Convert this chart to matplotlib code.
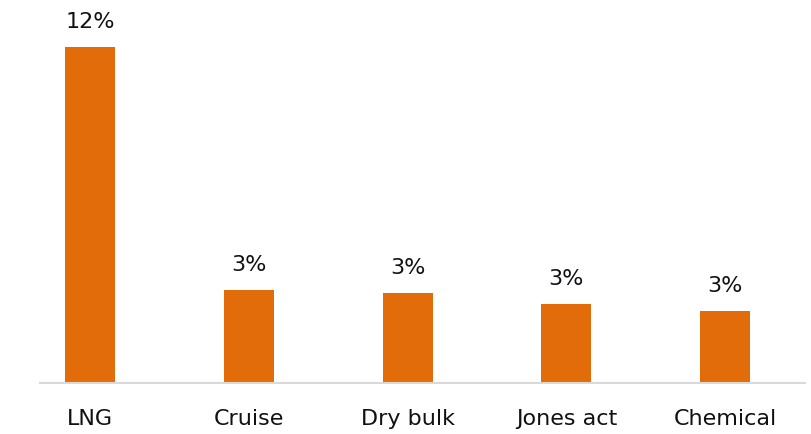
import matplotlib
matplotlib.use("Agg")
import matplotlib.pyplot as plt

# data
categories = ["LNG", "Cruise", "Dry bulk", "Jones act", "Chemical"]
values = [12.0, 3.32, 3.21, 2.82, 2.57]

bar_color = "#E36C0A"

fig = plt.figure(figsize=(8.11, 4.34), dpi=100)
W, H = 811, 434
ax = fig.add_axes([40 / W, 51 / H, (805 - 40) / W, (383 - 47) / H])

x = list(range(len(categories)))
bars = ax.bar(x, values, width=0.315, color=bar_color)

for xi, v in zip(x, values):
    ax.annotate(f"{v:.0f}%", (xi, v), xytext=(0, 11), textcoords="offset points",
                ha="center", va="bottom", fontsize=16, color="#111111",
                annotation_clip=False)

ax.set_xlim(-0.3145, 4.503)
ax.set_ylim(0, 12)
ax.set_xticks(x)
ax.set_xticklabels(categories, fontsize=16, color="#111111")
ax.tick_params(axis="x", length=0, pad=19)
ax.set_yticks([])
for s in ["top", "right", "left"]:
    ax.spines[s].set_visible(False)
ax.spines["bottom"].set_color("#D9D9D9")
ax.spines["bottom"].set_linewidth(1.5)

fig.savefig("out.png", dpi=100)
